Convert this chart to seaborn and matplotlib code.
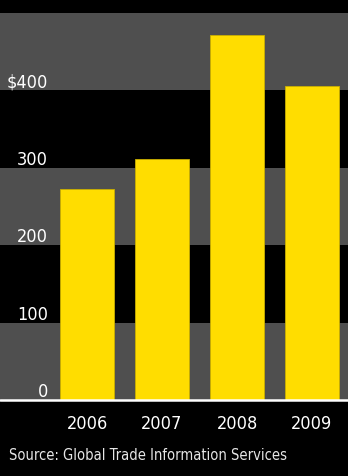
import matplotlib
matplotlib.use("Agg")
import matplotlib.pyplot as plt
import matplotlib.transforms as mtransforms
import seaborn as sns
import pandas as pd

years = ["2006", "2007", "2008", "2009"]
values = [273, 311, 472, 406]
ytick_vals = [0, 100, 200, 300, 400]
ytick_labels = ["0", "100", "200", "300", "$400"]
source = "Source: Global Trade Information Services"

sns.set_theme(style="white")
plt.rcParams["font.family"] = ["DejaVu Sans"]
FONT = dict(family="DejaVu Sans", stretch="condensed")

BAR = "#FFDD00"
BAND = "#4f4f4f"

fig = plt.figure(figsize=(3.48, 4.77), dpi=100, facecolor="black")
ax = fig.add_axes([0, (477 - 401) / 477, 1, (401 - 14) / 477])
ax.set_facecolor("black")

for lo in (0, 200, 400):
    ax.axhspan(lo, lo + 100, color=BAND, lw=0, zorder=0)

df = pd.DataFrame({"year": years, "value": values})
sns.barplot(data=df, x="year", y="value", color=BAR, saturation=1,
            width=0.72, edgecolor="#c9ae00", linewidth=0.6, ax=ax, zorder=2)

ax.set_ylim(0, 500)
ax.set_xlim(-1.16, 3.48)
ax.set_xlabel("")
ax.set_ylabel("")
ax.set_yticks([])
for s in ax.spines.values():
    s.set_visible(False)
ax.axhline(0, color="white", lw=1.8, zorder=3, clip_on=False)

ax.tick_params(axis="x", length=0, pad=10)
for lab in ax.get_xticklabels():
    lab.set_color("white")
    lab.set_fontsize(13)
    lab.set_fontfamily("DejaVu Sans")
    lab.set_fontstretch("condensed")

trans = mtransforms.offset_copy(ax.get_yaxis_transform(), fig=fig, x=0, y=4, units="dots")
for v, t in zip(ytick_vals, ytick_labels):
    ax.text(48 / 348, v, t, transform=trans, ha="right", va="baseline",
            color="white", fontsize=13, **FONT)

fig.text(9 / 348, 1 - 460 / 477, source, ha="left", va="baseline",
         color="#e6e6e6", fontsize=10.5, **FONT)

fig.savefig("out.png", dpi=100, facecolor="black")
